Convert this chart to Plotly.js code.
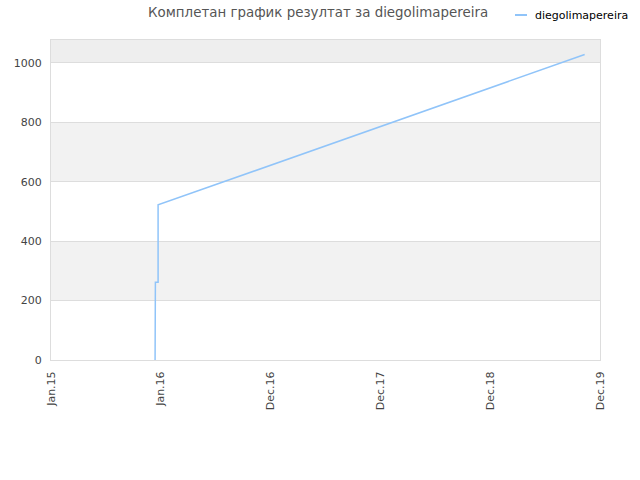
<!DOCTYPE html>
<html><head><meta charset="utf-8">
<script src="https://cdn.plot.ly/plotly-3.0.1.min.js"></script>
<style>html,body{margin:0;padding:0;background:#fff}#chart{width:640px;height:480px}</style>
</head><body><div id="chart"></div>
<script>
// days since 2015-01-01
const dayIndex = [346, 346, 347, 356, 356, 1774];
const scores   = [0, 258, 262, 262, 522, 1028];
const tickDays = [0, 365, 730, 1095, 1460, 1825];
const tickLabels = ['Jan.15', 'Jan.16', 'Dec.16', 'Dec.17', 'Dec.18', 'Dec.19'];
const yTicks = [0, 200, 400, 600, 800, 1000];
const seriesName = 'diegolimapereira';
const titleText = 'Комплетан график резултат за diegolimapereira';

const yMax = 1077;
const bandStep = 200;
const shapes = [];
for (let y0 = 0; y0 < yMax; y0 += bandStep) {
  const idx = Math.round(y0 / bandStep);
  if (idx % 2 === 1) {
    shapes.push({type:'rect', xref:'paper', yref:'y', x0:0, x1:1, y0:y0, y1:Math.min(y0+bandStep, yMax),
      fillcolor: y0 >= 1000 ? '#eeeeee' : '#f2f2f2', line:{width:0}, layer:'below'});
  }
}
// legend sample line
shapes.push({type:'line', xref:'paper', yref:'paper', x0:(515-51)/549, x1:(527-51)/549,
  y0:(360-15)/320, y1:(360-15)/320, line:{color:'#90c4f9', width:2}});

Plotly.newPlot('chart', [{
  x: dayIndex, y: scores, type:'scatter', mode:'lines', name: seriesName,
  line:{color:'#90c4f9', width:1.5}, showlegend:false
}], {
  width:640, height:480,
  margin:{l:51, r:40, t:40, b:120},
  paper_bgcolor:'#fff', plot_bgcolor:'#fff',
  font:{family:'DejaVu Sans, sans-serif', size:11, color:'#444'},
  title:{text:titleText, x:0.497, xanchor:'center', y:0.975, yanchor:'middle',
    font:{family:'DejaVu Sans, sans-serif', size:13.4, color:'#555'}},
  xaxis:{range:[0,1825], tickmode:'array', tickvals:tickDays, ticktext:tickLabels, tickangle:-90,
    showgrid:false, zeroline:false, showline:true, linecolor:'#dddddd', mirror:true,
    ticks:'', ticklabelstandoff:6, tickfont:{size:11, color:'#444'}},
  yaxis:{range:[0,yMax], tickmode:'array', tickvals:yTicks, showgrid:true, gridcolor:'#dddddd',
    zeroline:false, showline:true, linecolor:'#dddddd', mirror:true, ticks:'', ticklabelstandoff:6,
    tickfont:{size:11, color:'#444'}},
  shapes: shapes,
  annotations:[{xref:'paper', yref:'paper', x:(533-51)/549, y:(360-15)/320, xanchor:'left', yanchor:'middle',
    text: seriesName, showarrow:false, font:{size:11, color:'#000'}}]
}, {displayModeBar:false, staticPlot:true});
</script></body></html>
